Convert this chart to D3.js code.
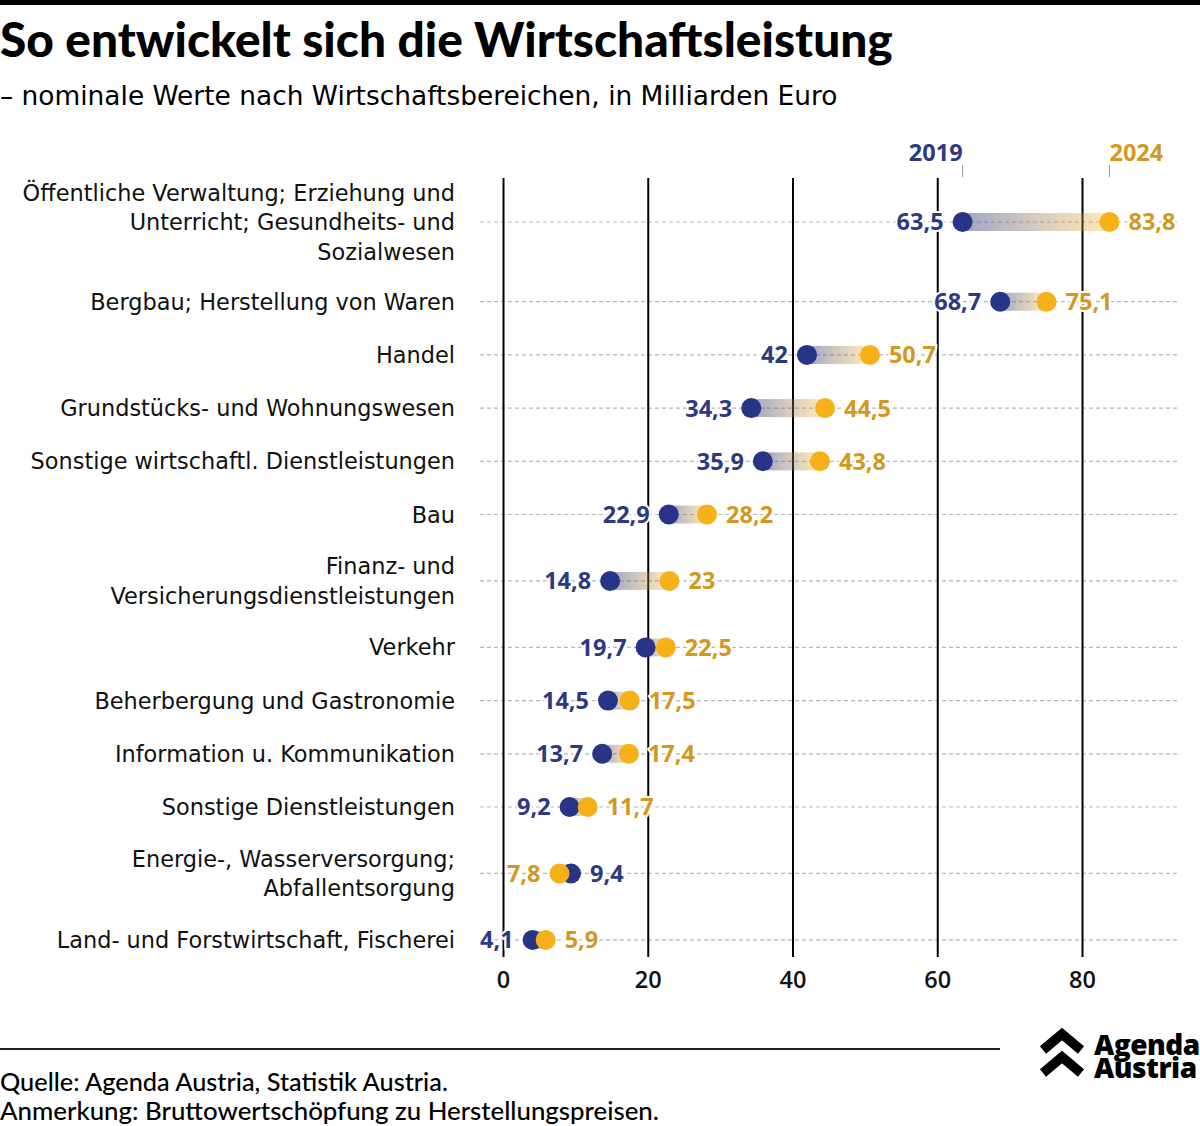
<!DOCTYPE html>
<html><head><meta charset="utf-8">
<script src="https://cdn.jsdelivr.net/npm/d3@7"></script>
<style>
html,body{margin:0;padding:0;background:#fff;}
svg{display:block;font-family:"Open Sans",Lato,sans-serif;}
</style></head>
<body>
<svg id="chart" width="1200" height="1126"></svg>
<script>
const categories = [
  ["Öffentliche Verwaltung; Erziehung und","Unterricht; Gesundheits- und","Sozialwesen"],
  ["Bergbau; Herstellung von Waren"],
  ["Handel"],
  ["Grundstücks- und Wohnungswesen"],
  ["Sonstige wirtschaftl. Dienstleistungen"],
  ["Bau"],
  ["Finanz- und","Versicherungsdienstleistungen"],
  ["Verkehr"],
  ["Beherbergung und Gastronomie"],
  ["Information u. Kommunikation"],
  ["Sonstige Dienstleistungen"],
  ["Energie-, Wasserversorgung;","Abfallentsorgung"],
  ["Land- und Forstwirtschaft, Fischerei"]
];
const values2019 = [63.5, 68.7, 42, 34.3, 35.9, 22.9, 14.8, 19.7, 14.5, 13.7, 9.2, 9.4, 4.1];
const values2024 = [83.8, 75.1, 50.7, 44.5, 43.8, 28.2, 23, 22.5, 17.5, 17.4, 11.7, 7.8, 5.9];
const xTicks = [0, 20, 40, 60, 80];
const seriesNames = ["2019", "2024"];

const BLUE = "#283586", BLUE_T = "#2c3a82", ORANGE = "#f6b01a", ORANGE_T = "#d3981f";
const fmt = v => String(v).replace(".", ",");

const svg = d3.select("#chart");

const meas = svg.append("text").attr("x",-1000).attr("y",-1000);
function widthOf(str, size, weight, family){
  meas.attr("font-size",size).attr("font-weight",weight).attr("font-family",family).text(str);
  return meas.node().getComputedTextLength();
}
function fitText(sel, target){
  const w = sel.node().getComputedTextLength();
  const fs = parseFloat(sel.attr("font-size"));
  sel.attr("font-size", fs*target/w);
}

// top bar
svg.append("rect").attr("x",0).attr("y",0).attr("width",1200).attr("height",5).attr("fill","#000");

const FAM = "Open Sans, sans-serif";
const CAT = "'DejaVu Sans', sans-serif";

// title
const title = svg.append("text").attr("x",0).attr("y",57).attr("font-size",38).attr("font-weight",900)
  .attr("font-family","Lato, sans-serif").attr("fill","#000").text("So entwickelt sich die Wirtschaftsleistung");
fitText(title, 893);
const sub = svg.append("text").attr("x",0).attr("y",105).attr("font-size",24).attr("font-weight",400)
  .attr("font-family",CAT).attr("fill","#000").text("– nominale Werte nach Wirtschaftsbereichen, in Milliarden Euro");
fitText(sub, 838);

const catSize = 20 * 365 / widthOf("Bergbau; Herstellung von Waren", 20, 400, CAT);
const valSize = 20 * 47 / widthOf("63,5", 20, 700, FAM);

// scales
const x = d3.scaleLinear().domain([0, 80]).range([503, 1082]);

// row positions from label line counts
const rowStep = 53.2, extraPerLine = 26.5;
let cum = [0];
for (let i = 1; i < categories.length; i++) {
  const e = (categories[i-1].length - 1 + categories[i].length - 1) / 2;
  cum.push(cum[i-1] + rowStep + e * extraPerLine);
}
const y = d3.scaleLinear().domain([0, 1]).range([222, 223]);
const rowY = i => y(cum[i]);

const plotTop = 178, plotBottom = 957;

// dashed row lines
svg.append("g").selectAll("line").data(categories).join("line")
  .attr("x1",480).attr("x2",1178)
  .attr("y1",(d,i)=>rowY(i)).attr("y2",(d,i)=>rowY(i))
  .attr("stroke","#b8b8b8").attr("stroke-width",1.2).attr("stroke-dasharray","4,3");

// vertical grid
const xAxis = d3.axisBottom(x).tickValues(xTicks).tickSize(-(plotBottom-plotTop)).tickPadding(14).tickFormat(d=>d);
const ax = svg.append("g").attr("transform",`translate(0,${plotBottom})`).call(xAxis);
ax.select(".domain").remove();
ax.selectAll(".tick line").attr("stroke","#000").attr("stroke-width",2);
ax.selectAll(".tick text").attr("font-size",valSize).attr("font-weight",600).attr("fill","#111")
  .attr("font-family",FAM);

// gradients & bars
const defs = svg.append("defs");
categories.forEach((c,i)=>{
  const a = values2019[i], b = values2024[i];
  const gr = defs.append("linearGradient").attr("id","gr"+i)
    .attr("gradientUnits","userSpaceOnUse")
    .attr("x1",x(a)).attr("x2",x(b)).attr("y1",0).attr("y2",0);
  gr.append("stop").attr("offset","0%").attr("stop-color",BLUE).attr("stop-opacity",0.45);
  gr.append("stop").attr("offset","100%").attr("stop-color",ORANGE).attr("stop-opacity",0.3);
});
svg.append("g").selectAll("rect").data(categories).join("rect")
  .attr("x",(d,i)=>Math.min(x(values2019[i]),x(values2024[i])))
  .attr("width",(d,i)=>Math.abs(x(values2024[i])-x(values2019[i])))
  .attr("y",(d,i)=>rowY(i)-9).attr("height",18)
  .attr("fill",(d,i)=>`url(#gr${i})`);

// dots
const dots = svg.append("g");
dots.selectAll("circle.a").data(values2019).join("circle").attr("class","a")
  .attr("cx",d=>x(d)).attr("cy",(d,i)=>rowY(i)).attr("r",10).attr("fill",BLUE);
dots.selectAll("circle.b").data(values2024).join("circle").attr("class","b")
  .attr("cx",d=>x(d)).attr("cy",(d,i)=>rowY(i)).attr("r",10).attr("fill",ORANGE);

// value labels
const lab = svg.append("g").attr("font-size",valSize).attr("font-weight",700).attr("font-family",FAM);
function valueLabel(v, other, i, color){
  const right = v >= other;
  lab.append("text")
    .attr("x", x(v) + (right ? 19 : -19))
    .attr("y", rowY(i)).attr("dy","0.36em")
    .attr("text-anchor", right ? "start" : "end")
    .attr("fill", color)
    .attr("stroke","#fff").attr("stroke-width",4).attr("paint-order","stroke")
    .text(fmt(v));
}
values2019.forEach((v,i)=>valueLabel(v, values2024[i], i, BLUE_T));
values2024.forEach((v,i)=>valueLabel(v, values2019[i], i, ORANGE_T));

// category labels (one text per line)
const cl = svg.append("g").attr("font-size",catSize).attr("font-weight",400).attr("fill","#111")
  .attr("text-anchor","end").attr("font-family",CAT);
const lh = 29.5;
categories.forEach((lines,i)=>{
  lines.forEach((l,j)=>{
    cl.append("text").attr("x",455)
      .attr("y",rowY(i) - (lines.length-1)*lh/2 + j*lh).attr("dy","0.36em").text(l);
  });
});

// legend
const lg = svg.append("g");
[[values2019[0], seriesNames[0], BLUE_T, "end"],[values2024[0], seriesNames[1], ORANGE_T, "start"]].forEach(([v,name,col,anchor])=>{
  lg.append("line").attr("x1",x(v)).attr("x2",x(v)).attr("y1",165).attr("y2",177)
    .attr("stroke","#999").attr("stroke-width",1);
  lg.append("text").attr("x",x(v)).attr("y",161).attr("text-anchor",anchor).attr("font-family",FAM)
    .attr("font-size",valSize).attr("font-weight",700).attr("fill",col).text(name);
});

// footer
svg.append("line").attr("x1",0).attr("x2",1000).attr("y1",1049).attr("y2",1049).attr("stroke","#222").attr("stroke-width",2);
const f1 = svg.append("text").attr("x",0).attr("y",1091).attr("font-size",21).attr("font-weight",500).attr("fill","#000")
  .attr("font-family","Lato, sans-serif").text("Quelle: Agenda Austria, Statistik Austria.");
fitText(f1, 448);
const f2 = svg.append("text").attr("x",0).attr("y",1120).attr("font-size",21).attr("font-weight",500).attr("fill","#000")
  .attr("font-family","Lato, sans-serif").text("Anmerkung: Bruttowertschöpfung zu Herstellungspreisen.");
fitText(f2, 659);

// logo
const logo = svg.append("g");
[1034, 1057].forEach(ty=>{
  logo.append("polyline")
    .attr("points",`1043,${ty+16} 1062,${ty} 1081,${ty+16}`)
    .attr("fill","none").attr("stroke","#000").attr("stroke-width",9.5).attr("stroke-linejoin","miter");
});
const lt = logo.append("text").attr("font-size",28).attr("font-weight",800).attr("fill","#000")
  .attr("font-family","Open Sans, sans-serif").attr("letter-spacing",-0.5);
lt.append("tspan").attr("x",1094).attr("y",1055).text("Agenda");
lt.append("tspan").attr("x",1094).attr("y",1078).text("Austria");
meas.remove();
</script>
</body></html>
